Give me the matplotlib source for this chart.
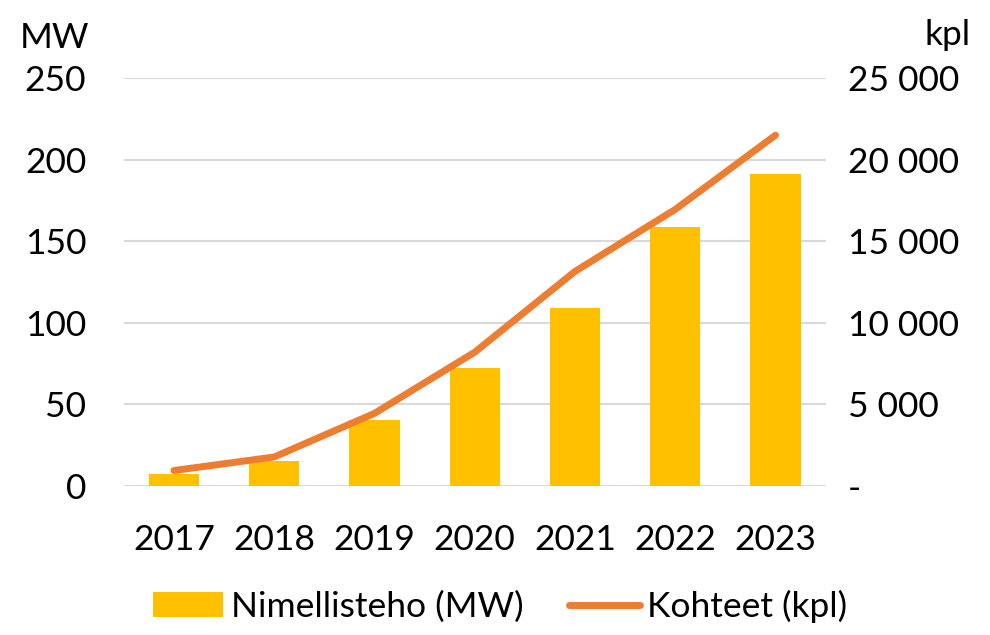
import matplotlib
matplotlib.use("Agg")
from matplotlib import pyplot as plt
from matplotlib.ticker import FuncFormatter

years = ["2017", "2018", "2019", "2020", "2021", "2022", "2023"]
capacity_mw = [7.4, 15.3, 40.4, 72.3, 109, 158.5, 191]
sites_kpl = [950, 1780, 4450, 8200, 13150, 16950, 21500]

yellow = "#FFC000"
orange = "#ED7D31"
grid = "#D9D9D9"

plt.rcParams["font.family"] = ["Lato", "DejaVu Sans"]
fs = 25.5

fig = plt.figure(figsize=(9.9, 6.35), dpi=100)
ax = fig.add_axes([0.125, 0.2346, 0.709, 0.6425])
ax2 = ax.twinx()

x = range(len(years))
bars = ax.bar(x, capacity_mw, width=0.5, color=yellow, zorder=2, label="Nimellisteho (MW)")
line, = ax2.plot(x, sites_kpl, color=orange, lw=5, solid_capstyle="round", zorder=3,
                 label="Kohteet (kpl)")

ax.set_xlim(-0.5, len(years) - 0.5)
ax.set_ylim(0, 250)
ax2.set_ylim(0, 25000)
ax.set_yticks(range(0, 251, 50))
ax2.set_yticks(range(0, 25001, 5000))
ax.set_xticks(list(x))
ax.set_xticklabels(years)

ax2.yaxis.set_major_formatter(
    FuncFormatter(lambda v, p: "-" if v == 0 else f"{int(v):,}".replace(",", " "))
)

ax.yaxis.grid(True, color=grid, lw=1.5, zorder=0)
ax.set_axisbelow(True)
for a in (ax, ax2):
    for s in a.spines.values():
        s.set_visible(False)
ax.tick_params(axis="both", length=0, labelsize=fs)
ax.tick_params(axis="y", pad=27)
ax.tick_params(axis="x", pad=27)
ax2.tick_params(axis="y", length=0, labelsize=fs, pad=16)
for t in ax2.get_yticklabels():
    t.set_horizontalalignment("left")

fig.text(0.02, 0.94, "MW", fontsize=fs, va="center", ha="left")
fig.text(0.98, 0.945, "kpl", fontsize=fs, va="center", ha="right")

fig.legend([bars, line], ["Nimellisteho (MW)", "Kohteet (kpl)"],
           loc="center", bbox_to_anchor=(0.505, 0.045), ncol=2, frameon=False,
           fontsize=fs, handlelength=2.0, handletextpad=0.2, columnspacing=1.3)

fig.savefig("out.png", dpi=100)
